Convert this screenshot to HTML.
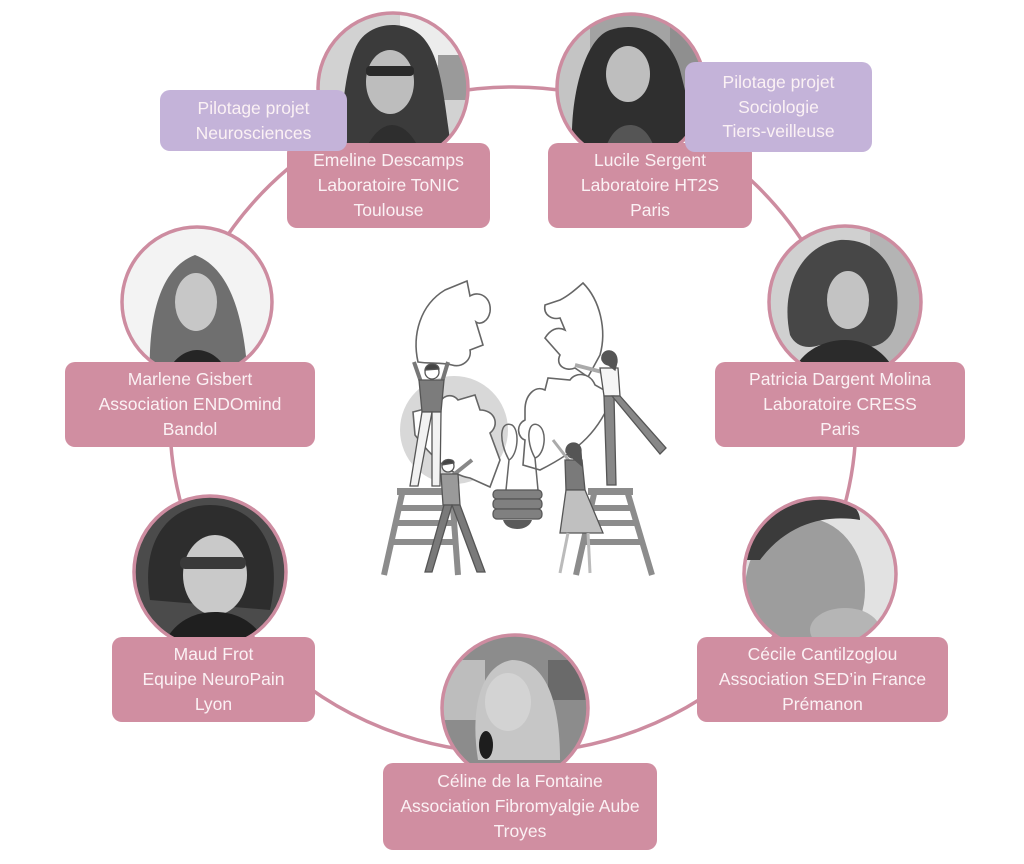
<!DOCTYPE html>
<html><head><meta charset="utf-8">
<style>
html,body{margin:0;padding:0;background:#fff;}
body{width:1024px;height:864px;position:relative;overflow:hidden;font-family:"Liberation Sans",Arial,sans-serif;}
svg{position:absolute;left:0;top:0;}
.box{position:absolute;box-sizing:border-box;border-radius:10px;color:#fbf1f4;font-size:17.5px;line-height:25px;text-align:center;display:flex;flex-direction:column;justify-content:center;white-space:nowrap;}
.pk{background:#d08ea1;}
.lv{background:#c4b3d9;line-height:24.5px;}
</style></head><body>
<svg width="1024" height="864" viewBox="0 0 1024 864">
<defs>
<clipPath id="c1"><circle cx="393" cy="88" r="75"/></clipPath>
<clipPath id="c2"><circle cx="631" cy="88" r="74"/></clipPath>
<clipPath id="c3"><circle cx="197" cy="302" r="75"/></clipPath>
<clipPath id="c4"><circle cx="845" cy="302" r="76"/></clipPath>
<clipPath id="c5"><circle cx="210" cy="572" r="76"/></clipPath>
<clipPath id="c6"><circle cx="820" cy="574" r="76"/></clipPath>
<clipPath id="c7"><circle cx="515" cy="708" r="73"/></clipPath>
</defs>
<!-- ring -->
<ellipse cx="513" cy="420" rx="343" ry="333" fill="none" stroke="#cd8ca0" stroke-width="3.5"/>

<!-- Emeline -->
<g clip-path="url(#c1)">
<rect x="310" y="5" width="170" height="170" fill="#d2d2d2"/>
<rect x="400" y="5" width="80" height="60" fill="#ececec"/>
<rect x="438" y="55" width="30" height="45" fill="#9a9a9a"/>
<path d="M340,170 C340,120 345,60 360,40 C375,20 410,20 425,40 C445,65 445,120 455,170 Z" fill="#3b3b3b"/>
<ellipse cx="390" cy="82" rx="24" ry="32" fill="#bdbdbd"/>
<rect x="366" y="66" width="48" height="10" rx="4" fill="#2a2a2a"/>
<path d="M360,170 C365,140 380,125 392,125 C405,125 420,140 425,170 Z" fill="#2e2e2e"/>
</g>
<circle cx="393" cy="88" r="75" fill="none" stroke="#cd8ca0" stroke-width="3.5"/>

<!-- Lucile -->
<g clip-path="url(#c2)">
<rect x="550" y="5" width="165" height="170" fill="#a3a3a3"/>
<rect x="550" y="5" width="40" height="170" fill="#c4c4c4"/>
<rect x="670" y="5" width="45" height="170" fill="#8f8f8f"/>
<path d="M575,170 C565,120 580,40 610,30 C640,20 670,35 680,70 C690,110 700,150 690,170 Z" fill="#2f2f2f"/>
<ellipse cx="628" cy="74" rx="22" ry="28" fill="#bebebe"/>
<path d="M600,170 C605,140 615,125 630,125 C645,125 655,140 660,170 Z" fill="#555"/>
</g>
<circle cx="631" cy="88" r="74" fill="none" stroke="#cd8ca0" stroke-width="3.5"/>

<!-- Marlene -->
<g clip-path="url(#c3)">
<rect x="120" y="225" width="155" height="155" fill="#f3f3f3"/>
<path d="M150,380 C148,330 155,270 195,255 C235,270 245,330 248,380 Z" fill="#6f6f6f"/>
<ellipse cx="196" cy="302" rx="21" ry="29" fill="#c7c7c7"/>
<path d="M165,380 C170,360 185,350 197,350 C210,350 225,360 230,380 Z" fill="#252525"/>
</g>
<circle cx="197" cy="302" r="75" fill="none" stroke="#cd8ca0" stroke-width="3.5"/>

<!-- Patricia -->
<g clip-path="url(#c4)">
<rect x="765" y="222" width="160" height="160" fill="#d0d0d0"/>
<rect x="870" y="222" width="55" height="160" fill="#b4b4b4"/>
<path d="M790,335 C780,290 800,245 840,240 C885,238 905,280 895,325 C890,345 870,350 860,345 L820,345 C805,350 795,345 790,335 Z" fill="#474747"/>
<ellipse cx="848" cy="300" rx="21" ry="29" fill="#c3c3c3"/>
<path d="M790,382 C795,355 820,340 845,340 C870,340 890,355 900,382 Z" fill="#2b2b2b"/>
</g>
<circle cx="845" cy="302" r="76" fill="none" stroke="#cd8ca0" stroke-width="3.5"/>

<!-- Maud -->
<g clip-path="url(#c5)">
<rect x="130" y="492" width="160" height="160" fill="#4b4b4b"/>
<path d="M150,600 C140,540 170,505 210,505 C255,505 285,545 270,610 Z" fill="#2d2d2d"/>
<ellipse cx="215" cy="575" rx="32" ry="40" fill="#c9c9c9"/>
<rect x="180" y="557" width="66" height="12" rx="5" fill="#3a3a3a"/>
<path d="M160,652 C170,625 190,612 215,612 C240,612 260,625 270,652 Z" fill="#1f1f1f"/>
</g>
<circle cx="210" cy="572" r="76" fill="none" stroke="#cd8ca0" stroke-width="3.5"/>

<!-- Cecile -->
<g clip-path="url(#c6)">
<rect x="740" y="494" width="160" height="160" fill="#e2e2e2"/>
<ellipse cx="805" cy="590" rx="60" ry="72" fill="#9d9d9d"/>
<path d="M742,560 C745,520 775,495 830,497 C850,498 860,510 860,520 C830,515 790,520 760,560 Z" fill="#3b3b3b"/>
<ellipse cx="845" cy="630" rx="35" ry="22" fill="#b5b5b5"/>
</g>
<circle cx="820" cy="574" r="76" fill="none" stroke="#cd8ca0" stroke-width="3.5"/>

<!-- Celine -->
<g clip-path="url(#c7)">
<rect x="440" y="634" width="150" height="150" fill="#8c8c8c"/>
<rect x="440" y="660" width="45" height="60" fill="#bdbdbd"/>
<rect x="548" y="660" width="42" height="40" fill="#6a6a6a"/>
<path d="M478,760 C470,710 480,665 512,660 C545,660 560,700 560,760 Z" fill="#c6c6c6"/>
<ellipse cx="508" cy="702" rx="23" ry="29" fill="#d3d3d3"/>
<ellipse cx="486" cy="745" rx="7" ry="14" fill="#1d1d1d"/>
</g>
<circle cx="515" cy="708" r="73" fill="none" stroke="#cd8ca0" stroke-width="3.5"/>

<!-- Center illustration -->
<g>
<circle cx="454" cy="430" r="54" fill="#d8d8d8"/>
<!-- ladders -->
<g stroke="#8c8c8c" stroke-width="6" fill="none">
<line x1="402" y1="494" x2="384" y2="575"/>
<line x1="452" y1="494" x2="458" y2="575"/>
<line x1="398" y1="508" x2="452" y2="508"/>
<line x1="395" y1="523" x2="454" y2="523"/>
<line x1="390" y1="542" x2="456" y2="542"/>
<line x1="594" y1="494" x2="576" y2="575"/>
<line x1="628" y1="494" x2="652" y2="575"/>
<line x1="590" y1="508" x2="632" y2="508"/>
<line x1="588" y1="523" x2="636" y2="523"/>
<line x1="584" y1="542" x2="641" y2="542"/>
</g>
<rect x="397" y="488" width="61" height="7" fill="#8c8c8c"/>
<rect x="588" y="488" width="45" height="7" fill="#8c8c8c"/>
<!-- puzzle pieces -->
<g fill="#fff" stroke="#666" stroke-width="1.6">
<path d="M418,362 C412,335 420,305 445,290 L467,281 L470,296 C480,290 492,298 490,312 C488,322 480,325 476,322 L483,345 L470,350 C472,360 462,368 452,365 C440,362 430,364 418,362 Z"/>
<path d="M583,283 C600,300 607,330 600,355 L588,377 L575,368 C565,372 555,365 560,355 L545,338 C550,330 557,326 565,330 L560,318 C552,320 543,315 545,305 L560,300 C568,296 575,290 583,283 Z"/>
<path d="M413,412 L440,405 C440,396 452,392 458,400 L475,395 L480,410 C495,410 500,425 490,433 L500,460 L490,487 L470,478 C450,475 430,455 415,435 Z"/>
<path d="M525,410 C525,395 535,385 545,390 L548,378 L570,380 C575,372 590,372 595,385 L613,395 C600,430 580,450 540,470 L523,465 L525,440 C518,438 515,425 525,420 Z"/>
</g>
<!-- filament -->
<path d="M506,490 L509,460 C498,440 500,420 512,425 C520,430 518,455 509,460 M538,490 L535,458 C525,440 528,420 538,425 C548,430 545,455 535,458" fill="none" stroke="#666" stroke-width="1.5"/>
<!-- bulb base -->
<g fill="#808080" stroke="#555" stroke-width="1.2">
<rect x="493" y="490" width="49" height="9" rx="4"/>
<rect x="493" y="499" width="49" height="10" rx="4"/>
<rect x="493" y="509" width="49" height="10" rx="4"/>
</g>
<path d="M503,520 L532,520 C530,526 524,529 517,529 C510,529 505,526 503,520 Z" fill="#5a5a5a"/>
<!-- left man on ladder -->
<g stroke="#555" stroke-width="1.3">
<line x1="421" y1="382" x2="414" y2="362" stroke-width="4" stroke="#777"/>
<line x1="442" y1="382" x2="448" y2="362" stroke-width="4" stroke="#777"/>
<polygon points="419,380 444,380 441,412 422,412" fill="#7c7c7c"/>
<polygon points="422,412 432,412 418,486 410,486" fill="#f2f2f2"/>
<polygon points="432,412 441,412 440,486 432,486" fill="#f2f2f2"/>
<circle cx="432" cy="372" r="7" fill="#fff"/>
<path d="M425,370 C426,362 438,362 439,369 Z" fill="#444"/>
</g>
<!-- bottom man -->
<g stroke="#555" stroke-width="1.3">
<line x1="452" y1="476" x2="472" y2="460" stroke-width="4" stroke="#888"/>
<polygon points="441,474 458,474 460,505 443,505" fill="#9a9a9a"/>
<polygon points="444,505 452,505 432,572 425,572" fill="#7a7a7a"/>
<polygon points="452,505 460,505 485,572 477,572" fill="#7a7a7a"/>
<circle cx="448" cy="466" r="6" fill="#fff"/>
<path d="M442,465 C442,458 454,458 454,463 Z" fill="#444"/>
</g>
<!-- top right woman -->
<g stroke="#555" stroke-width="1.3">
<line x1="602" y1="372" x2="575" y2="365" stroke-width="4" stroke="#aaa"/>
<polygon points="600,368 618,368 620,396 604,396" fill="#f5f5f5"/>
<polygon points="604,396 614,396 616,485 607,485" fill="#888"/>
<polygon points="612,396 620,396 666,448 660,454" fill="#888"/>
<circle cx="609" cy="358" r="7" fill="#fff"/>
<path d="M602,360 C600,348 618,347 617,362 L615,370 Z" fill="#555"/>
</g>
<!-- bottom right woman -->
<g stroke="#555" stroke-width="1.3">
<line x1="570" y1="462" x2="553" y2="440" stroke-width="3" stroke="#aaa"/>
<polygon points="565,460 582,460 585,490 566,490" fill="#7a7a7a"/>
<polygon points="566,490 585,490 603,533 560,533" fill="#c0c0c0"/>
<line x1="568" y1="533" x2="560" y2="573" stroke-width="3" stroke="#bbb"/>
<line x1="588" y1="533" x2="590" y2="573" stroke-width="3" stroke="#bbb"/>
<circle cx="573" cy="452" r="6" fill="#fff"/>
<path d="M566,452 C565,440 582,440 581,452 L582,466 Z" fill="#555"/>
</g>
</g>
</svg>

<div class="box pk" style="left:287px;top:143px;width:203px;height:85px;"><div>Emeline Descamps</div><div>Laboratoire ToNIC</div><div>Toulouse</div></div>
<div class="box pk" style="left:548px;top:143px;width:204px;height:85px;"><div>Lucile Sergent</div><div>Laboratoire HT2S</div><div>Paris</div></div>
<div class="box lv" style="left:160px;top:90px;width:187px;height:61px;"><div>Pilotage projet</div><div>Neurosciences</div></div>
<div class="box lv" style="left:685px;top:62px;width:187px;height:90px;"><div>Pilotage projet</div><div>Sociologie</div><div>Tiers-veilleuse</div></div>
<div class="box pk" style="left:65px;top:362px;width:250px;height:85px;"><div>Marlene Gisbert</div><div>Association ENDOmind</div><div>Bandol</div></div>
<div class="box pk" style="left:715px;top:362px;width:250px;height:85px;"><div>Patricia Dargent Molina</div><div>Laboratoire CRESS</div><div>Paris</div></div>
<div class="box pk" style="left:112px;top:637px;width:203px;height:85px;"><div>Maud Frot</div><div>Equipe NeuroPain</div><div>Lyon</div></div>
<div class="box pk" style="left:697px;top:637px;width:251px;height:85px;"><div>Cécile Cantilzoglou</div><div>Association SED’in France</div><div>Prémanon</div></div>
<div class="box pk" style="left:383px;top:763px;width:274px;height:87px;"><div>Céline de la Fontaine</div><div>Association Fibromyalgie Aube</div><div>Troyes</div></div>
</body></html>
